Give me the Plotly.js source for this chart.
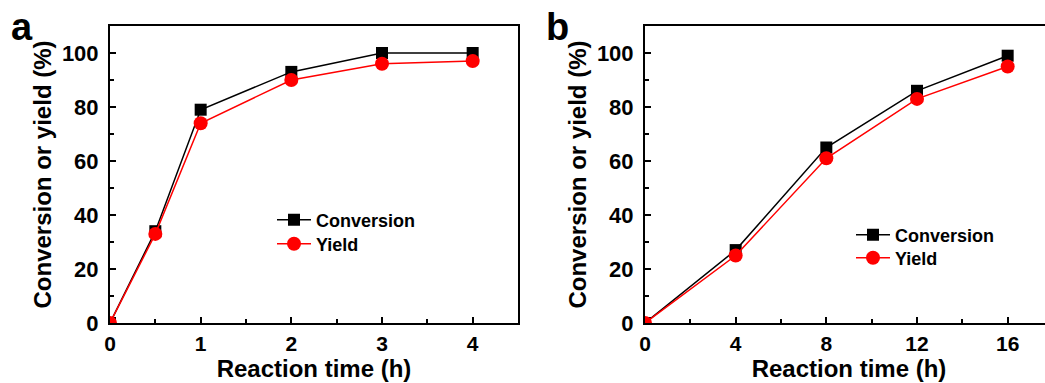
<!DOCTYPE html>
<html>
<head>
<meta charset="utf-8">
<script src="https://cdn.plot.ly/plotly-3.0.1.min.js"></script>
<style>
html,body{margin:0;padding:0;overflow:hidden;background:#fff;}
#chart{width:1056px;height:383px;}
</style>
</head>
<body>
<div id="chart"></div>
<script>
// Panel a data
const timeA = [0, 0.5, 1, 2, 3, 4];
const conversionA = [0, 34, 79, 93, 100, 100];
const yieldA = [0, 33, 74, 90, 96, 97];
// Panel b data
const timeB = [0, 4, 8, 12, 16];
const conversionB = [0, 27, 65, 86, 99];
const yieldB = [0, 25, 61, 83, 95];
const seriesNames = ["Conversion", "Yield"];
const xTitle = "Reaction time (h)";
const yTitle = "Conversion or yield (%)";
const panelLabels = ["a", "b"];

const W = 1056, H = 383;
const FONT = "Arial, 'Liberation Sans', sans-serif";
const px = v => v / W;
const py = v => 1 - v / H;

function convTrace(x, y, xa, ya, leg) {
  return {x: x, y: y, xaxis: xa, yaxis: ya, name: seriesNames[0], legend: leg,
    type: 'scatter', mode: 'lines+markers', showlegend: true,
    line: {color: '#000000', width: 1.5},
    marker: {symbol: 'square', size: 12, color: '#000000'}};
}
function yieldTrace(x, y, xa, ya, leg) {
  return {x: x, y: y, xaxis: xa, yaxis: ya, name: seriesNames[1], legend: leg,
    type: 'scatter', mode: 'lines+markers', showlegend: true,
    line: {color: '#ff0000', width: 1.5},
    marker: {symbol: 'circle', size: 14, color: '#ff0000'}};
}

const data = [
  convTrace(timeA, conversionA, 'x', 'y', 'legend'),
  yieldTrace(timeA, yieldA, 'x', 'y', 'legend2'),
  convTrace(timeB, conversionB, 'x2', 'y2', 'legend3'),
  yieldTrace(timeB, yieldB, 'x2', 'y2', 'legend4')
];

function xAxis(domain, range, dtick, anchor) {
  return {domain: domain, range: range, anchor: anchor, dtick: dtick, tick0: 0,
    showline: true, mirror: true, linecolor: '#000', linewidth: 2,
    ticks: 'inside', ticklen: 6, tickwidth: 2, tickcolor: '#000',
    minor: {ticks: 'inside', ticklen: 4, tickwidth: 2, tickcolor: '#000', dtick: dtick / 2, tick0: 0, showgrid: false},
    showgrid: false, zeroline: false, fixedrange: true,
    tickfont: {family: FONT, size: 21, color: '#000', weight: 700},
    ticklabelstandoff: 1,
    title: {text: xTitle, font: {family: FONT, size: 24, color: '#000', weight: 700}, standoff: 3}};
}
function yAxis(domain, anchor) {
  return {domain: domain, range: [0, 110], anchor: anchor, dtick: 20, tick0: 0,
    showline: true, mirror: true, linecolor: '#000', linewidth: 2,
    ticks: 'inside', ticklen: 6, tickwidth: 2, tickcolor: '#000',
    minor: {ticks: 'inside', ticklen: 4, tickwidth: 2, tickcolor: '#000', dtick: 10, tick0: 0, showgrid: false},
    showgrid: false, zeroline: false, fixedrange: true,
    tickfont: {family: FONT, size: 22, color: '#000', weight: 700},
    ticklabelstandoff: 5,
    title: {text: yTitle, font: {family: FONT, size: 24, color: '#000', weight: 700}, standoff: 3}};
}

const yDom = [1 - 323 / H, 1 - 26 / H];

function legendAt(x, y) {
  return {x: px(x), y: py(y), xanchor: 'left', yanchor: 'middle',
    font: {family: FONT, size: 18, color: '#000', weight: 700},
    bgcolor: 'rgba(0,0,0,0)', borderwidth: 0, itemwidth: 34};
}

const layout = {
  width: W, height: H,
  margin: {l: 0, r: 0, t: 0, b: 0},
  paper_bgcolor: '#fff', plot_bgcolor: '#fff',
  showlegend: true,
  xaxis: xAxis([px(110), px(518)], [0, 4.5], 1, 'y'),
  yaxis: yAxis(yDom, 'x'),
  xaxis2: xAxis([px(645), px(1053)], [0, 18], 4, 'y2'),
  yaxis2: yAxis(yDom, 'x2'),
  legend: legendAt(272, 220),
  legend2: legendAt(272, 244),
  legend3: legendAt(851, 235),
  legend4: legendAt(851, 258),
  annotations: [
    {text: panelLabels[0], xref: 'paper', yref: 'paper', x: px(9), y: py(27), xanchor: 'left', yanchor: 'middle',
     showarrow: false, font: {family: FONT, size: 38, color: '#000', weight: 700}},
    {text: panelLabels[1], xref: 'paper', yref: 'paper', x: px(544), y: py(27), xanchor: 'left', yanchor: 'middle',
     showarrow: false, font: {family: FONT, size: 38, color: '#000', weight: 700}}
  ]
};

Plotly.newPlot('chart', data, layout, {staticPlot: true, displayModeBar: false});
</script>
</body>
</html>
